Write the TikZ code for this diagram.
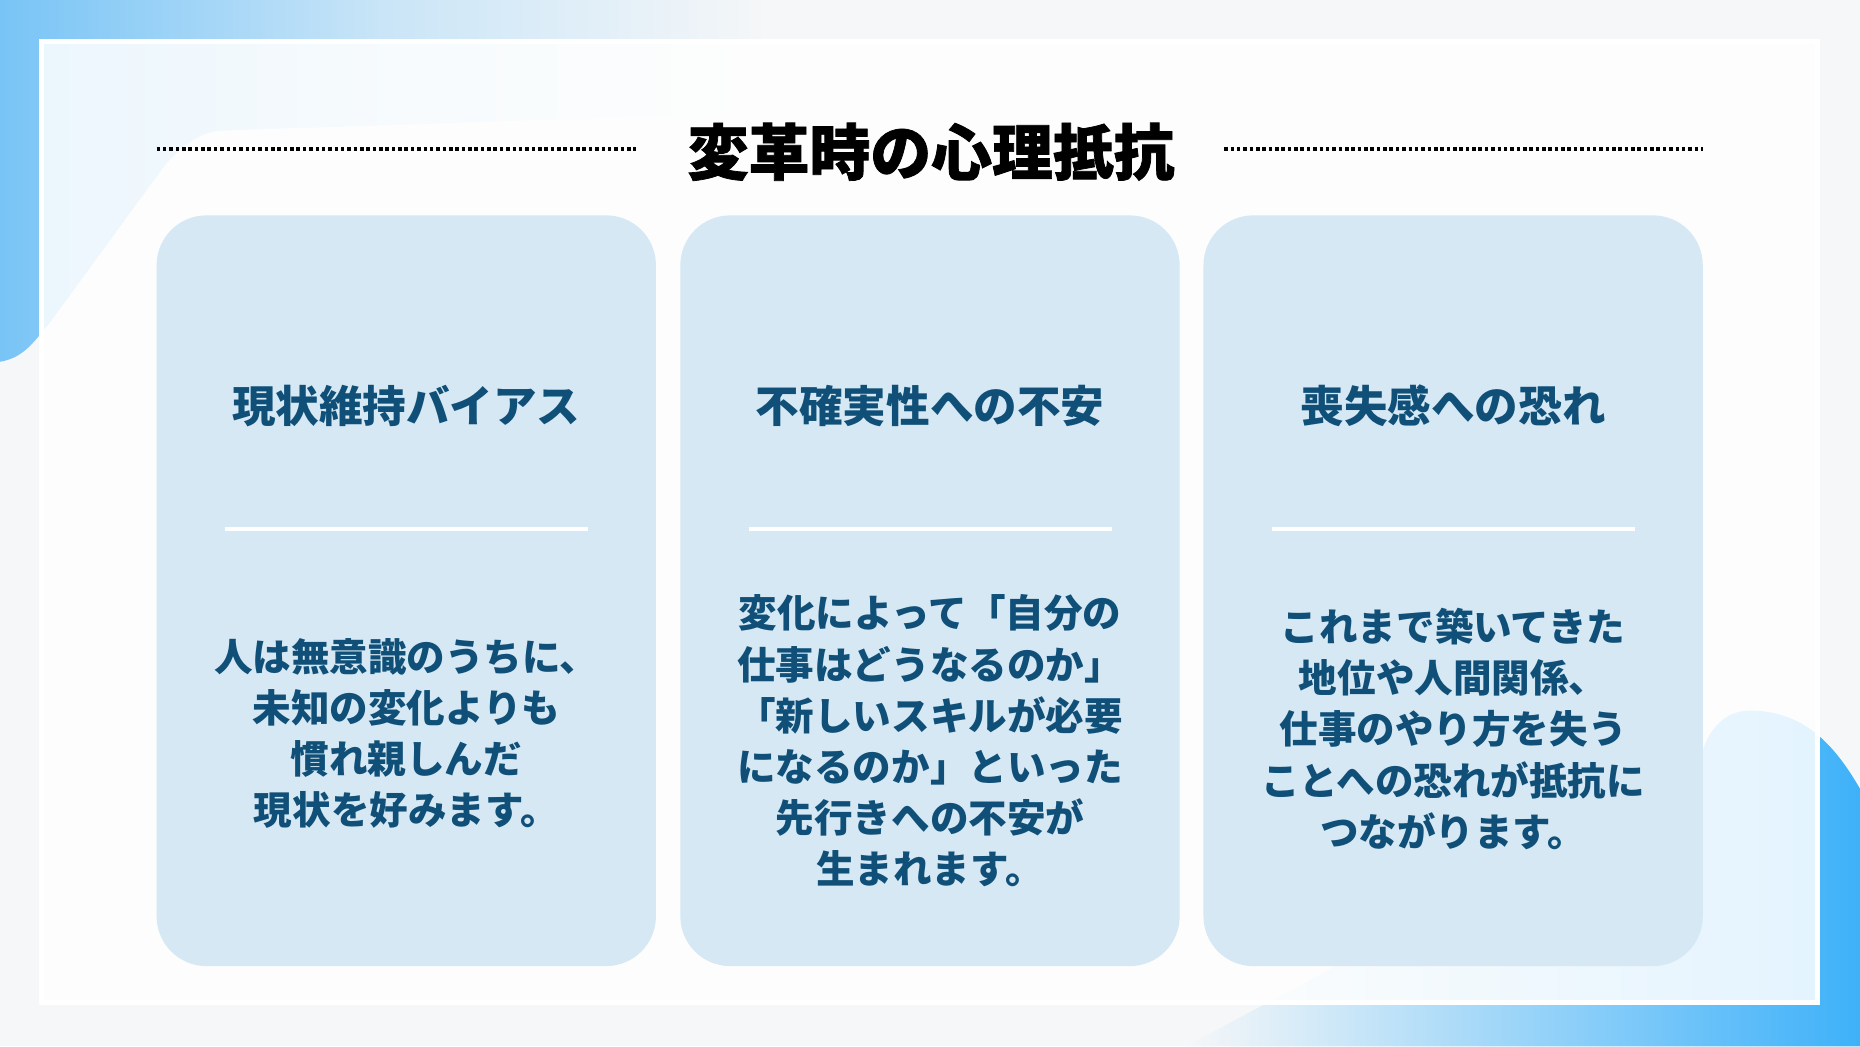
\documentclass[tikz,border=0pt]{standalone}
\usepackage{fontspec}
\setmainfont{Noto Sans CJK JP}
\newfontfamily\heavyfont[FakeBold=1.2]{Noto Sans CJK JP}
\definecolor{bggray}{HTML}{F6F7F8}
\definecolor{cardblue}{HTML}{D5E8F3}
\definecolor{inkblue}{HTML}{0F4F78}
\definecolor{skyblue}{HTML}{78C4F6}
\definecolor{deepsky}{HTML}{3EB1F9}
\tikzset{
	card/.style={fill=cardblue, rounded corners=0.84cm, minimum width=8.42cm, minimum height=12.66cm, inner sep=0pt},
	head/.style={text=inkblue, font=\fontsize{20.9}{24}\selectfont\bfseries},
	body/.style={text=inkblue, align=center, font=\fontsize{18.5}{24.5}\selectfont\bfseries},
	sepline/.style={white, line width=1.7pt},
	dots/.style={line width=1.9pt, dash pattern=on 1.7pt off 1.35pt}
}
\begin{document}
\begin{tikzpicture}[x=0.02cm,y=-0.02cm]
		\fill[bggray] (0,0) rectangle (1568,882);
		\shade[left color=skyblue, right color=bggray, middle color=skyblue!35!bggray] (0,0) -- (650,0) -- (650,95) -- (190,110) to[out=182,in=45] (140,138) -- (42,272) to[out=230,in=10] (0,305) -- cycle;
		\shade[left color=bggray, right color=deepsky] (1000,882) -- (1433,650) to[out=90,in=180] (1475,599) to[out=0,in=120] (1568,665) -- (1568,882) -- cycle;
		\draw[white, line width=2.3pt, fill=white, fill opacity=0.85] (35,35) rectangle (1532,845);
		\node[font=\fontsize{29.2}{34}\selectfont\heavyfont\bfseries] (title) at (785,128) {変革時の心理抵抗};
		\draw[dots] (132,126) -- (536,126);
		\draw[dots] (1032,126) -- (1436,126);
		\foreach \n/\x in {1/342.5,2/784,3/1225} {
			\node[card] (card\n) at (\x,498) {};
			\draw[sepline] (\x-153,446) -- (\x+153,446);
		}
		\node[head] (head1) at (342.5,342) {現状維持バイアス};
		\node[head] (head2) at (784,342) {不確実性への不安};
		\node[head] (head3) at (1225,342) {喪失感への恐れ};
		\node[body] (body1) at (342.5,618) {人は無意識のうちに、\\未知の変化よりも\\慣れ親しんだ\\現状を好みます。};
		\node[body] (body2) at (784,624.5) {変化によって「自分の\\仕事はどうなるのか」\\「新しいスキルが必要\\になるのか」といった\\先行きへの不安が\\生まれます。};
		\node[body] (body3) at (1225,614.5) {これまで築いてきた\\地位や人間関係、\\仕事のやり方を失う\\ことへの恐れが抵抗に\\つながります。};
	\end{tikzpicture}
\end{document}
